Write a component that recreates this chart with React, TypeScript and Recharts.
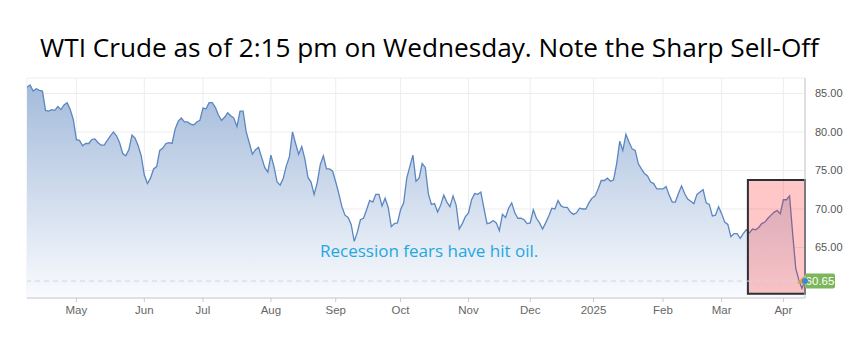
import React from 'react';
import {
  AreaChart,
  Area,
  XAxis,
  YAxis,
  CartesianGrid,
  ReferenceArea,
  ReferenceLine,
  ReferenceDot,
} from 'recharts';

// WTI daily prices, one per trading day (Apr 2024 -> Apr 9 2025)
const prices: number[] = [
  85.8, 86.1, 85.3, 85.6, 85.4, 85.3, 82.8, 82.7, 82.9, 82.8,
  83.3, 82.9, 83.5, 83.8, 82.9, 81.6, 79.0, 78.9, 78.2, 78.5,
  78.5, 79.0, 79.1, 78.6, 78.3, 78.3, 78.9, 79.5, 80.0, 79.5,
  78.6, 77.2, 76.9, 77.7, 79.6, 79.2, 78.2, 76.9, 74.4, 73.3,
  74.0, 75.2, 75.5, 77.6, 77.9, 78.5, 78.6, 78.5, 80.4, 81.4,
  81.8, 81.3, 81.3, 81.0, 80.9, 81.3, 81.5, 83.1, 83.0, 83.8,
  83.8, 83.2, 82.2, 81.5, 81.9, 82.5, 82.1, 81.8, 80.7, 82.7,
  82.7, 80.0, 78.6, 77.1, 77.7, 78.0, 76.7, 75.4, 74.8, 77.0,
  75.5, 73.5, 73.1, 74.0, 75.6, 76.8, 80.0, 78.5, 77.1, 78.1,
  76.5, 74.1, 73.5, 71.9, 73.4, 75.8, 76.9, 75.2, 75.2, 74.9,
  73.5, 72.0, 70.3, 69.2, 68.9, 68.0, 65.8, 67.0, 68.6, 68.8,
  69.9, 71.1, 70.9, 71.9, 71.9, 70.4, 71.4, 70.2, 67.7, 68.1,
  68.2, 69.9, 70.8, 74.0, 75.5, 77.0, 73.6, 74.0, 75.9, 75.4,
  72.0, 70.6, 70.7, 69.6, 70.5, 71.8, 70.9, 70.3, 71.7, 70.5,
  67.4, 68.1, 69.0, 69.5, 71.2, 72.0, 71.9, 72.2, 70.1, 68.1,
  68.2, 68.5, 68.2, 67.2, 69.3, 68.9, 70.1, 70.8, 69.5, 68.8,
  68.8, 68.6, 68.1, 68.2, 69.9, 68.8, 68.2, 67.4, 68.2, 69.1,
  70.1, 70.0, 71.1, 70.4, 70.2, 70.2, 69.6, 69.3, 69.5, 70.1,
  70.0, 70.0, 70.8, 71.4, 71.7, 72.6, 73.7, 73.7, 74.0, 73.6,
  73.8, 75.9, 78.8, 77.6, 79.7, 78.7, 77.8, 77.6, 75.9, 75.2,
  74.6, 74.3, 73.5, 73.3, 72.6, 72.6, 72.6, 72.9, 71.8, 70.9,
  70.9, 72.0, 73.0, 72.0, 71.3, 71.0, 70.7, 71.9, 72.2, 72.5,
  70.8, 70.6, 69.1, 69.2, 70.3, 69.4, 68.3, 68.0, 66.4, 66.8,
  66.8, 66.2, 66.8, 67.3, 66.9, 67.4, 67.3, 67.6, 68.1, 68.3,
  68.8, 69.2, 69.6, 69.8, 69.4, 71.2, 71.2, 71.7, 66.8, 62.3,
  60.8, 59.7, 60.65,
];

// month starts (trading-day index) and their labels
const monthTickIdx: number[] = [16, 38, 57, 79, 100, 121, 143, 163, 183.5, 206, 225, 245];
const monthLabels: string[] = ['May', 'Jun', 'Jul', 'Aug', 'Sep', 'Oct', 'Nov', 'Dec', '2025', 'Feb', 'Mar', 'Apr'];
const priceTicks: number[] = [65, 70, 75, 80, 85];
const priceDomain: number[] = [58.45, 87];

const lastPrice = 60.65;
const highlightX: number[] = [233.5, 252];
const highlightY: number[] = [59.0, 73.75];

const titleText = 'WTI Crude as of 2:15 pm on Wednesday. Note the Sharp Sell-Off';
const noteText = 'Recession fears have hit oil.';

const data = prices.map((p, i) => ({ i, p }));
const lastIdx = prices.length - 1;

const PriceTag = (props: any) => {
  const vb = props.viewBox || {};
  const right = (vb.x || 0) + (vb.width || 0);
  const y = vb.y || 0;
  return (
    <g>
      <polygon
        points={`${right - 8},${y + 2} ${right},${y - 6} ${right + 2},${y + 4}`}
        fill="#d9a445"
      />
      <rect x={right} y={y - 7.5} width={30} height={15} rx={2} ry={2} fill="#7cb65a" />
      <text
        x={right + 15}
        y={y + 4}
        textAnchor="middle"
        fontSize={11.5}
        fill="#ffffff"
        fontFamily="'Liberation Sans', Arial, sans-serif"
      >
        {lastPrice.toFixed(2)}
      </text>
    </g>
  );
};

export default function App() {
  return (
    <div
      style={{
        position: 'absolute',
        left: 0,
        top: 0,
        width: 859,
        height: 351,
        background: '#ffffff',
        overflow: 'hidden',
      }}
    >
      <div
        style={{
          position: 'absolute',
          left: 0,
          top: 30,
          width: 859,
          textAlign: 'center',
          fontFamily: "'Open Sans', sans-serif",
          fontSize: 26.2,
          lineHeight: '34px',
          color: '#000',
          whiteSpace: 'nowrap',
        }}
      >
        {titleText}
      </div>
      <div style={{ position: 'absolute', left: 0, top: 0 }}>
        <AreaChart
          width={859}
          height={351}
          data={data}
          margin={{ top: 78, right: 0, bottom: 23, left: 27 }}
          style={{ fontFamily: "'Liberation Sans', Arial, sans-serif" }}
        >
          <defs>
            <linearGradient id="wtiFill" x1="0" y1="0" x2="0" y2="1">
              <stop offset="0%" stopColor="#a4bbdb" stopOpacity={1} />
              <stop offset="100%" stopColor="#f9fbfe" stopOpacity={1} />
            </linearGradient>
          </defs>
          <CartesianGrid stroke="#ededed" />
          <XAxis
            type="number"
            dataKey="i"
            domain={[0, lastIdx]}
            ticks={monthTickIdx}
            interval={0}
            tickFormatter={(v: number) => monthLabels[monthTickIdx.indexOf(v)] ?? ''}
            stroke="#c8c8c8"
            tick={{ fill: '#666666', fontSize: 11.5 }}
            tickSize={4}
            tickMargin={4}
            height={30}
            allowDataOverflow
          />
          <YAxis
            orientation="right"
            type="number"
            domain={priceDomain}
            ticks={priceTicks}
            interval={0}
            tickFormatter={(v: number) => v.toFixed(2)}
            stroke="#c8c8c8"
            tickLine={false}
            tickMargin={4}
            tick={{ fill: '#555555', fontSize: 11 }}
            width={54}
            allowDataOverflow
          />
          <ReferenceLine
            y={lastPrice}
            stroke="#d6d6d6"
            strokeDasharray="5 4"
            label={<PriceTag />}
          />
          <Area
            type="linear"
            dataKey="p"
            stroke="#5b86c0"
            strokeWidth={1.3}
            fill="url(#wtiFill)"
            fillOpacity={1}
            dot={false}
            activeDot={false}
            isAnimationActive={false}
          />
          <ReferenceArea
            x1={highlightX[0]}
            x2={highlightX[1]}
            y1={highlightY[0]}
            y2={highlightY[1]}
            fill="#ff0000"
            fillOpacity={0.22}
            stroke="#2b2f36"
            strokeWidth={2}
            ifOverflow="visible"
          />
          <ReferenceDot
            x={lastIdx}
            y={lastPrice}
            r={3}
            fill="#3f86d6"
            stroke="none"
            ifOverflow="visible"
          />
        </AreaChart>
      </div>
      <div
        style={{
          position: 'absolute',
          left: 320,
          top: 240,
          fontFamily: "'Open Sans', sans-serif",
          fontSize: 17,
          lineHeight: '22px',
          color: '#1ea8e0',
          whiteSpace: 'nowrap',
        }}
      >
        {noteText}
      </div>
    </div>
  );
}
